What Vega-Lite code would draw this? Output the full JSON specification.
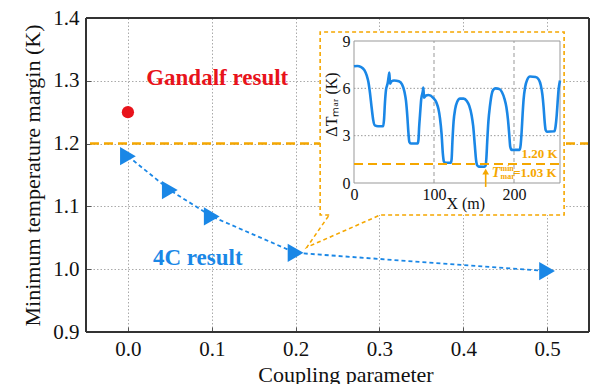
{
  "$schema": "https://vega.github.io/schema/vega-lite/v6.json",
  "width": 503,
  "height": 314,
  "autosize": {"type": "none"},
  "padding": {"left": 86, "top": 18, "right": 3, "bottom": 52},
  "background": "white",
  "config": {
    "font": "Liberation Serif",
    "view": {"stroke": null},
    "text": {"font": "Liberation Serif"},
    "axis": {"labelFont": "Liberation Serif", "titleFont": "Liberation Serif", "labelColor": "#111", "titleColor": "#111", "titleFontWeight": "normal", "domain": false}
  },
  "datasets": {
    "main": [
      {"c": 0, "t": 1.18},
      {"c": 0.05, "t": 1.126},
      {"c": 0.1, "t": 1.084},
      {"c": 0.2, "t": 1.026},
      {"c": 0.5, "t": 0.997}
    ],
    "gandalf": [{"c": 0, "t": 1.25}],
    "callout": [
      {"c": 0.2401, "t": 1.0863, "o": 1},
      {"c": 0.2293, "t": 1.0863, "o": 2},
      {"c": 0.2293, "t": 1.3777, "o": 3},
      {"c": 0.5203, "t": 1.3777, "o": 4},
      {"c": 0.5203, "t": 1.0863, "o": 5},
      {"c": 0.3009, "t": 1.0863, "o": 6},
      {"c": 0.2134, "t": 1.0349, "o": 7},
      {"c": 0.2401, "t": 1.0863, "o": 8}
    ],
    "frameV": [{"c": -0.05}, {"c": 0.55}],
    "frameH": [{"t": 0.9}, {"t": 1.4}],
    "curve": [
      {"x": 0, "y": 7.4}, {"x": 4, "y": 7.42}, {"x": 9, "y": 7.35}, {"x": 13, "y": 7.15}, {"x": 16, "y": 6.8},
      {"x": 18, "y": 6.4}, {"x": 20, "y": 5.7}, {"x": 22, "y": 4.8}, {"x": 24, "y": 4.0}, {"x": 26, "y": 3.65},
      {"x": 30, "y": 3.6}, {"x": 36.5, "y": 3.6}, {"x": 37.5, "y": 4.0}, {"x": 38.7, "y": 5.1}, {"x": 40, "y": 5.9},
      {"x": 42, "y": 6.3}, {"x": 43.5, "y": 6.8}, {"x": 44.2, "y": 7.0}, {"x": 45, "y": 6.3}, {"x": 47, "y": 6.45},
      {"x": 50, "y": 6.5}, {"x": 56, "y": 6.45}, {"x": 60, "y": 6.25}, {"x": 63, "y": 5.8}, {"x": 65, "y": 5.2},
      {"x": 66.7, "y": 4.2}, {"x": 68, "y": 3.2}, {"x": 69.2, "y": 2.6}, {"x": 71, "y": 2.5}, {"x": 79.5, "y": 2.5},
      {"x": 80.5, "y": 2.7}, {"x": 81.5, "y": 3.6}, {"x": 82.5, "y": 4.3}, {"x": 84, "y": 5.3}, {"x": 86, "y": 5.8},
      {"x": 86.7, "y": 6.05}, {"x": 87.5, "y": 5.4}, {"x": 90, "y": 5.55}, {"x": 93, "y": 5.58}, {"x": 99, "y": 5.4},
      {"x": 103, "y": 5.1}, {"x": 105.5, "y": 4.7}, {"x": 107.5, "y": 4.1}, {"x": 109.5, "y": 3.1}, {"x": 111, "y": 1.9},
      {"x": 112.5, "y": 1.35}, {"x": 114, "y": 1.28}, {"x": 121, "y": 1.28}, {"x": 122, "y": 1.5}, {"x": 123, "y": 2.6},
      {"x": 124.5, "y": 3.9}, {"x": 126.5, "y": 4.7}, {"x": 129, "y": 5.15}, {"x": 132.5, "y": 5.35}, {"x": 137, "y": 5.35},
      {"x": 141, "y": 5.2}, {"x": 144, "y": 4.9}, {"x": 147, "y": 4.3}, {"x": 149, "y": 3.6}, {"x": 151, "y": 2.4},
      {"x": 152.5, "y": 1.5}, {"x": 154, "y": 1.12}, {"x": 156, "y": 1.04}, {"x": 163, "y": 1.03}, {"x": 164.5, "y": 1.1},
      {"x": 165.5, "y": 1.6}, {"x": 166.5, "y": 2.6}, {"x": 168, "y": 3.9}, {"x": 170, "y": 4.9}, {"x": 172, "y": 5.6},
      {"x": 174, "y": 5.9}, {"x": 177, "y": 6.0}, {"x": 182, "y": 5.95}, {"x": 185, "y": 5.75}, {"x": 188, "y": 5.35},
      {"x": 190.5, "y": 4.8}, {"x": 192.5, "y": 4.0}, {"x": 194, "y": 3.1}, {"x": 195.3, "y": 2.3}, {"x": 197, "y": 2.1},
      {"x": 207, "y": 2.1}, {"x": 208.3, "y": 2.4}, {"x": 209.5, "y": 3.2}, {"x": 210.7, "y": 4.3}, {"x": 212, "y": 5.3},
      {"x": 214, "y": 6.1}, {"x": 216.5, "y": 6.55}, {"x": 220, "y": 6.75}, {"x": 227, "y": 6.72}, {"x": 231, "y": 6.55},
      {"x": 233.5, "y": 6.2}, {"x": 235.5, "y": 5.6}, {"x": 237, "y": 4.8}, {"x": 238.3, "y": 3.9}, {"x": 239.6, "y": 3.35},
      {"x": 241, "y": 3.25}, {"x": 250.5, "y": 3.28}, {"x": 252, "y": 3.6}, {"x": 253.4, "y": 4.3}, {"x": 254.5, "y": 5.1},
      {"x": 255.7, "y": 5.9}, {"x": 257.5, "y": 6.5}
    ],
    "igx": [{"v": 100}, {"v": 200}],
    "igy": [{"v": 3}, {"v": 6}]
  },
  "layer": [
    {
      "data": {"name": "main"},
      "mark": {"type": "line", "color": "#1a87e6", "strokeWidth": 1.8, "strokeDash": [4, 3]},
      "encoding": {
        "x": {
          "field": "c", "type": "quantitative",
          "scale": {"domain": [-0.05, 0.55], "nice": false, "zero": false},
          "axis": {
            "orient": "bottom",
            "values": [0, 0.1, 0.2, 0.3, 0.4, 0.5], "format": ".1f", "title": "Coupling parameter",
            "labelFontSize": 21, "titleFontSize": 22, "grid": true, "gridDash": [1.5, 2], "gridColor": "#aaa",
            "tickSize": -5, "tickColor": "#555", "labelPadding": 11, "labelFlush": false,
            "titleX": 259.5, "titleY": 49, "titleBaseline": "alphabetic"
          }
        },
        "y": {
          "field": "t", "type": "quantitative",
          "scale": {"domain": [0.9, 1.4], "nice": false, "zero": false},
          "axis": {
            "orient": "left",
            "values": [0.9, 1.0, 1.1, 1.2, 1.3, 1.4], "format": ".1f", "title": "Minimum temperature margin (K)",
            "labelFontSize": 21, "titleFontSize": 22, "grid": true, "gridDash": [1.5, 2], "gridColor": "#aaa",
            "tickSize": -5, "tickColor": "#555", "labelPadding": 12, "titlePadding": 8
          }
        }
      }
    },
    {
      "data": {"values": [{}]},
      "mark": {"type": "rule", "color": "#f5a700", "strokeWidth": 2.5, "strokeDash": [9, 5]},
      "encoding": {"y": {"datum": 1.2, "type": "quantitative", "scale": {"domain": [0.9, 1.4], "nice": false, "zero": false}, "axis": null}}
    },
    {
      "data": {"name": "main"},
      "mark": {"type": "point", "shape": "triangle-right", "filled": true, "size": 330, "color": "#1a87e6", "opacity": 1},
      "encoding": {
        "x": {"field": "c", "type": "quantitative", "scale": {"domain": [-0.05, 0.55], "nice": false, "zero": false}, "axis": null},
        "y": {"field": "t", "type": "quantitative", "scale": {"domain": [0.9, 1.4], "nice": false, "zero": false}, "axis": null}
      }
    },
    {
      "data": {"name": "gandalf"},
      "mark": {"type": "point", "shape": "circle", "filled": true, "size": 150, "color": "#e8131b", "opacity": 1},
      "encoding": {
        "x": {"field": "c", "type": "quantitative", "scale": {"domain": [-0.05, 0.55], "nice": false, "zero": false}, "axis": null},
        "y": {"field": "t", "type": "quantitative", "scale": {"domain": [0.9, 1.4], "nice": false, "zero": false}, "axis": null}
      }
    },
    {
      "data": {"values": [{}]},
      "mark": {"type": "text", "text": "Gandalf result", "font": "Liberation Serif", "color": "#e8131b", "fontSize": 23, "fontWeight": "bold", "align": "center", "baseline": "middle"},
      "encoding": {
        "x": {"datum": 0.1065, "type": "quantitative", "scale": {"domain": [-0.05, 0.55], "nice": false, "zero": false}, "axis": null},
        "y": {"datum": 1.3045, "type": "quantitative", "scale": {"domain": [0.9, 1.4], "nice": false, "zero": false}, "axis": null}
      }
    },
    {
      "data": {"values": [{}]},
      "mark": {"type": "text", "text": "4C result", "font": "Liberation Serif", "color": "#1a87e6", "fontSize": 23, "fontWeight": "bold", "align": "center", "baseline": "middle"},
      "encoding": {
        "x": {"datum": 0.0833, "type": "quantitative", "scale": {"domain": [-0.05, 0.55], "nice": false, "zero": false}, "axis": null},
        "y": {"datum": 1.0178, "type": "quantitative", "scale": {"domain": [0.9, 1.4], "nice": false, "zero": false}, "axis": null}
      }
    },
    {
      "data": {"values": [{}]},
      "mark": {"type": "rect", "fill": "white"},
      "encoding": {
        "x": {"datum": 0.2293, "type": "quantitative", "scale": {"domain": [-0.05, 0.55], "nice": false, "zero": false}, "axis": null},
        "x2": {"datum": 0.5203},
        "y": {"datum": 1.3777, "type": "quantitative", "scale": {"domain": [0.9, 1.4], "nice": false, "zero": false}, "axis": null},
        "y2": {"datum": 1.0863}
      }
    },
    {
      "data": {"name": "callout"},
      "mark": {"type": "line", "color": "#f5a700", "strokeWidth": 1.6, "strokeDash": [4, 3]},
      "encoding": {
        "x": {"field": "c", "type": "quantitative", "scale": {"domain": [-0.05, 0.55], "nice": false, "zero": false}, "axis": null},
        "y": {"field": "t", "type": "quantitative", "scale": {"domain": [0.9, 1.4], "nice": false, "zero": false}, "axis": null},
        "order": {"field": "o", "type": "quantitative"}
      }
    },
    {
      "data": {"name": "frameV"},
      "mark": {"type": "rule", "color": "#333", "strokeWidth": 2},
      "encoding": {
        "x": {"field": "c", "type": "quantitative", "scale": {"domain": [-0.05, 0.55], "nice": false, "zero": false}, "axis": null}
      }
    },
    {
      "data": {"name": "frameH"},
      "mark": {"type": "rule", "color": "#333", "strokeWidth": 2},
      "encoding": {
        "y": {"field": "t", "type": "quantitative", "scale": {"domain": [0.9, 1.4], "nice": false, "zero": false}, "axis": null}
      }
    },
    {
      "data": {"values": [{}]},
      "mark": {"type": "rect", "fill": "white", "stroke": "#999", "strokeWidth": 1},
      "encoding": {
        "x": {
          "datum": 0, "type": "quantitative",
          "scale": {"domain": [0, 257.5], "range": [268, 474], "nice": false, "zero": false},
          "axis": {
            "orient": "bottom", "offset": -149, "values": [0, 100, 200], "title": "X (m)",
            "labelFontSize": 16, "titleFontSize": 16, "grid": false, "ticks": false, "domain": false,
            "labelPadding": 3, "labelFlush": false, "zindex": 1,
            "titleX": 379.3, "titleY": 25, "titleBaseline": "alphabetic"
          }
        },
        "x2": {"datum": 257.5},
        "y": {
          "datum": 0, "type": "quantitative",
          "scale": {"domain": [0, 9], "range": [165, 23], "nice": false, "zero": false},
          "axis": {
            "orient": "left", "offset": -268, "values": [0, 3, 6, 9], "title": "ΔTₘₐᵣ (K)",
            "labelFontSize": 16, "titleFontSize": 16, "grid": false, "ticks": false, "domain": false,
            "labelPadding": 4, "zindex": 1,
            "titleX": -23, "titleY": 86, "titleBaseline": "middle", "titleAngle": -90, "titleAlign": "center"
          }
        },
        "y2": {"datum": 9}
      }
    },
    {
      "data": {"name": "igx"},
      "mark": {"type": "rule", "color": "#999", "strokeWidth": 1, "strokeDash": [4, 3]},
      "encoding": {
        "x": {"field": "v", "type": "quantitative", "scale": {"domain": [0, 257.5], "range": [268, 474], "nice": false, "zero": false}, "axis": null},
        "y": {"datum": 0, "type": "quantitative", "scale": {"domain": [0, 9], "range": [165, 23], "nice": false, "zero": false}, "axis": null},
        "y2": {"datum": 9}
      }
    },
    {
      "data": {"name": "igy"},
      "mark": {"type": "rule", "color": "#999", "strokeWidth": 1, "strokeDash": [1.5, 2]},
      "encoding": {
        "y": {"field": "v", "type": "quantitative", "scale": {"domain": [0, 9], "range": [165, 23], "nice": false, "zero": false}, "axis": null},
        "x": {"datum": 0, "type": "quantitative", "scale": {"domain": [0, 257.5], "range": [268, 474], "nice": false, "zero": false}, "axis": null},
        "x2": {"datum": 257.5}
      }
    },
    {
      "data": {"name": "curve"},
      "mark": {"type": "line", "color": "#1a87e6", "strokeWidth": 2.6, "interpolate": "monotone"},
      "encoding": {
        "x": {"field": "x", "type": "quantitative", "scale": {"domain": [0, 257.5], "range": [268, 474], "nice": false, "zero": false}, "axis": null},
        "y": {"field": "y", "type": "quantitative", "scale": {"domain": [0, 9], "range": [165, 23], "nice": false, "zero": false}, "axis": null}
      }
    },
    {
      "data": {"values": [{}]},
      "mark": {"type": "rule", "color": "#f5a700", "strokeWidth": 2, "strokeDash": [9, 5]},
      "encoding": {
        "y": {"datum": 1.2, "type": "quantitative", "scale": {"domain": [0, 9], "range": [165, 23], "nice": false, "zero": false}, "axis": null},
        "x": {"datum": 0, "type": "quantitative", "scale": {"domain": [0, 257.5], "range": [268, 474], "nice": false, "zero": false}, "axis": null},
        "x2": {"datum": 257.5}
      }
    },
    {
      "data": {"values": [{}]},
      "mark": {"type": "rule", "color": "#f5a700", "strokeWidth": 1.6},
      "encoding": {
        "x": {"datum": 164.6, "type": "quantitative", "scale": {"domain": [0, 257.5], "range": [268, 474], "nice": false, "zero": false}, "axis": null},
        "y": {"datum": -0.25, "type": "quantitative", "scale": {"domain": [0, 9], "range": [165, 23], "nice": false, "zero": false}, "axis": null},
        "y2": {"datum": 0.6}
      }
    },
    {
      "data": {"values": [{}]},
      "mark": {"type": "point", "shape": "triangle-up", "filled": true, "size": 45, "color": "#f5a700", "opacity": 1},
      "encoding": {
        "x": {"datum": 164.6, "type": "quantitative", "scale": {"domain": [0, 257.5], "range": [268, 474], "nice": false, "zero": false}, "axis": null},
        "y": {"datum": 0.72, "type": "quantitative", "scale": {"domain": [0, 9], "range": [165, 23], "nice": false, "zero": false}, "axis": null}
      }
    },
    {
      "data": {"values": [{}]},
      "mark": {"type": "text", "text": "1.20 K", "font": "Liberation Serif", "color": "#f5a700", "fontSize": 13, "fontWeight": "bold", "align": "right", "baseline": "middle"},
      "encoding": {
        "x": {"datum": 254.6, "type": "quantitative", "scale": {"domain": [0, 257.5], "range": [268, 474], "nice": false, "zero": false}, "axis": null},
        "y": {"datum": 1.84, "type": "quantitative", "scale": {"domain": [0, 9], "range": [165, 23], "nice": false, "zero": false}, "axis": null}
      }
    },
    {
      "data": {"values": [{}]},
      "mark": {"type": "text", "text": "T", "font": "Liberation Serif", "color": "#f5a700", "fontSize": 14, "fontWeight": "bold", "fontStyle": "italic", "align": "center", "baseline": "middle"},
      "encoding": {
        "x": {"datum": 177.5, "type": "quantitative", "scale": {"domain": [0, 257.5], "range": [268, 474], "nice": false, "zero": false}, "axis": null},
        "y": {"datum": 0.615, "type": "quantitative", "scale": {"domain": [0, 9], "range": [165, 23], "nice": false, "zero": false}, "axis": null}
      }
    },
    {
      "data": {"values": [{}]},
      "mark": {"type": "text", "text": "min", "font": "Liberation Serif", "color": "#f5a700", "fontSize": 8, "fontWeight": "bold", "align": "left", "baseline": "middle"},
      "encoding": {
        "x": {"datum": 183.1, "type": "quantitative", "scale": {"domain": [0, 257.5], "range": [268, 474], "nice": false, "zero": false}, "axis": null},
        "y": {"datum": 0.87, "type": "quantitative", "scale": {"domain": [0, 9], "range": [165, 23], "nice": false, "zero": false}, "axis": null}
      }
    },
    {
      "data": {"values": [{}]},
      "mark": {"type": "text", "text": "mar", "font": "Liberation Serif", "color": "#f5a700", "fontSize": 8, "fontWeight": "bold", "align": "left", "baseline": "middle"},
      "encoding": {
        "x": {"datum": 183.1, "type": "quantitative", "scale": {"domain": [0, 257.5], "range": [268, 474], "nice": false, "zero": false}, "axis": null},
        "y": {"datum": 0.36, "type": "quantitative", "scale": {"domain": [0, 9], "range": [165, 23], "nice": false, "zero": false}, "axis": null}
      }
    },
    {
      "data": {"values": [{}]},
      "mark": {"type": "text", "text": "=1.03 K", "font": "Liberation Serif", "color": "#f5a700", "fontSize": 13, "fontWeight": "bold", "align": "right", "baseline": "middle"},
      "encoding": {
        "x": {"datum": 253.4, "type": "quantitative", "scale": {"domain": [0, 257.5], "range": [268, 474], "nice": false, "zero": false}, "axis": null},
        "y": {"datum": 0.615, "type": "quantitative", "scale": {"domain": [0, 9], "range": [165, 23], "nice": false, "zero": false}, "axis": null}
      }
    }
  ],
  "resolve": {
    "scale": {"x": "independent", "y": "independent"},
    "axis": {"x": "independent", "y": "independent"}
  }
}
